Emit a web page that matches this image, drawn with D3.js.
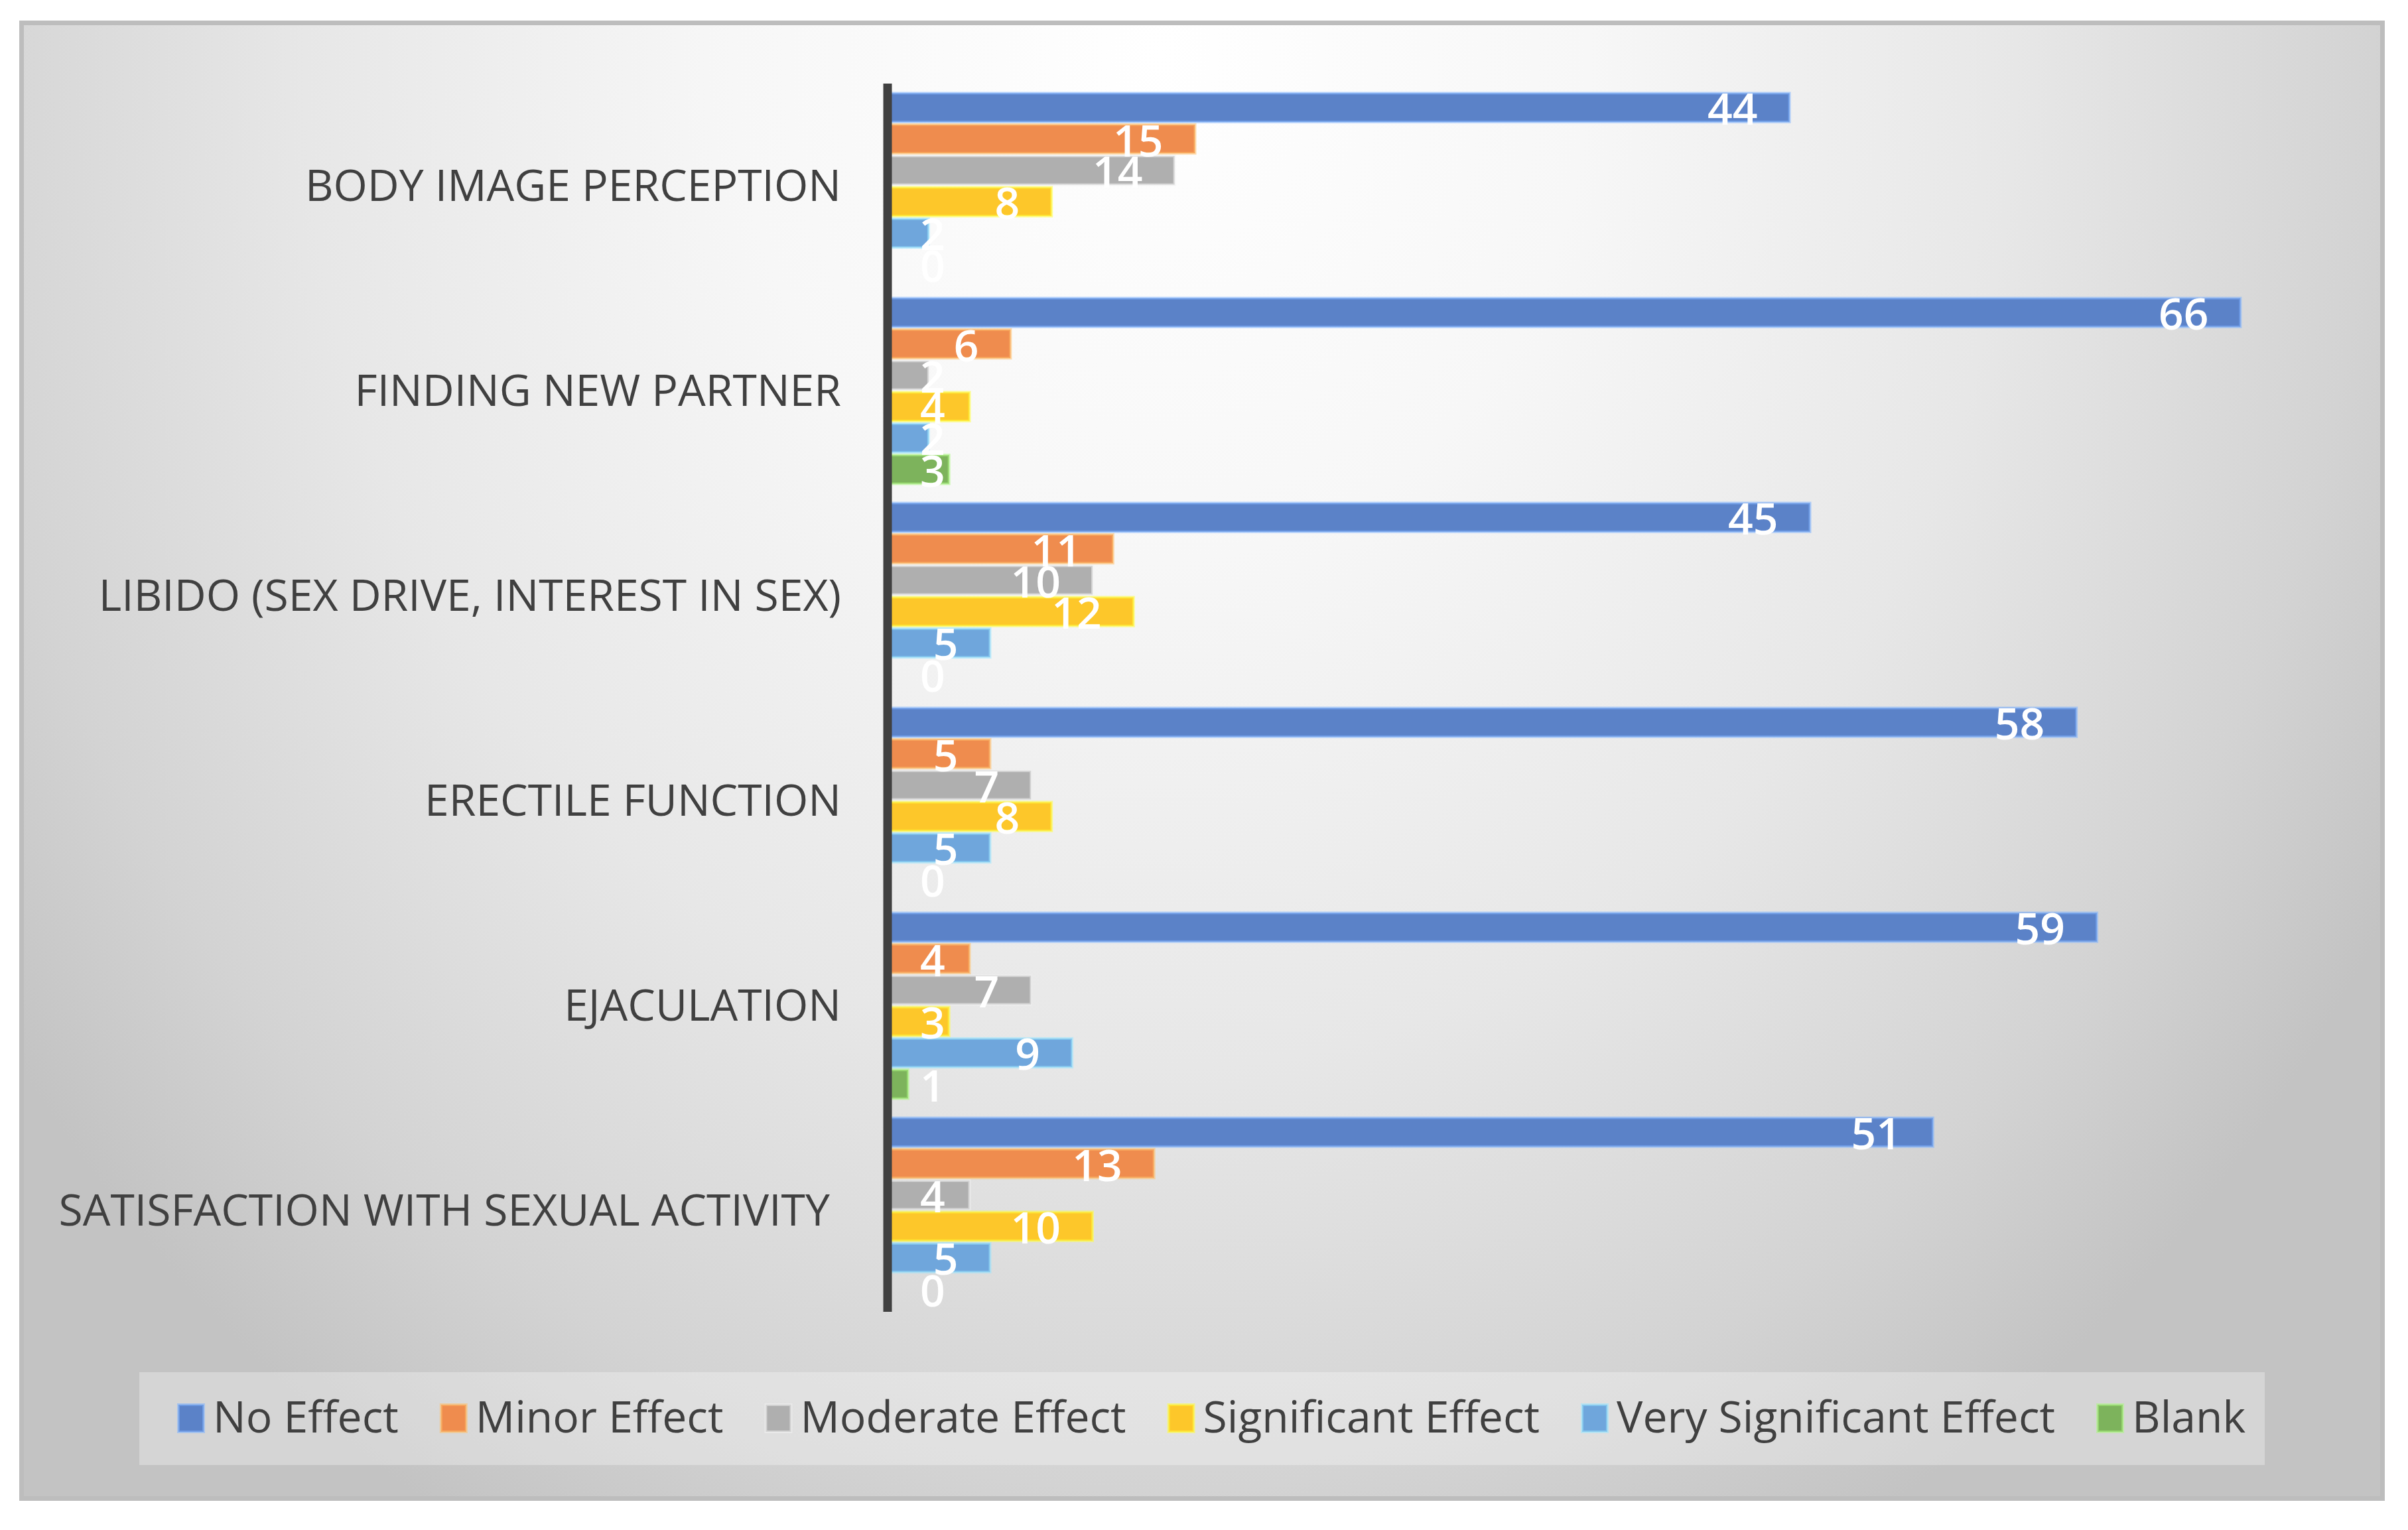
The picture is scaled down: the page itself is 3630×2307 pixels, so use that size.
<!DOCTYPE html>
<html>
<head>
<meta charset="utf-8">
<script src="https://cdn.jsdelivr.net/npm/d3@7"></script>
<style>
  html, body { margin: 0; padding: 0; background: #ffffff; }
  svg { display: block; }
  text { font-family: "Open Sans", sans-serif; }
</style>
</head>
<body>
<div id="chart"></div>
<script>
// categories, top to bottom
var categories = [
  "BODY IMAGE PERCEPTION",
  "FINDING NEW PARTNER",
  "LIBIDO (SEX DRIVE, INTEREST IN SEX)",
  "ERECTILE FUNCTION",
  "EJACULATION",
  "SATISFACTION WITH SEXUAL ACTIVITY "
];

var seriesNames = ["No Effect", "Minor Effect", "Moderate Effect", "Significant Effect", "Very Significant Effect", "Blank"];
var seriesColors = ["#5b82c8", "#ef8c4e", "#afafaf", "#fdc72a", "#6fa6dc", "#7db35c"];

var noEffect          = [44, 66, 45, 58, 59, 51];
var minorEffect       = [15, 6, 11, 5, 4, 13];
var moderateEffect    = [14, 2, 10, 7, 7, 4];
var significantEffect = [8, 4, 12, 8, 3, 10];
var verySignificant   = [2, 2, 5, 5, 9, 5];
var blank             = [0, 3, 0, 0, 1, 0];

var seriesValues = [noEffect, minorEffect, moderateEffect, significantEffect, verySignificant, blank];

var W = 3630, H = 2307;

var svg = d3.select("#chart").append("svg")
  .attr("width", W)
  .attr("height", H);

var defs = svg.append("defs");

// soft radial background like the office chart style
var grad = defs.append("radialGradient")
  .attr("id", "bg")
  .attr("gradientUnits", "userSpaceOnUse")
  .attr("cx", 0).attr("cy", 0).attr("r", 1)
  .attr("gradientTransform", "translate(1750,80) scale(2150,2550)");
grad.append("stop").attr("offset", "0").attr("stop-color", "#ffffff");
grad.append("stop").attr("offset", "0.3").attr("stop-color", "#f7f7f7");
grad.append("stop").attr("offset", "0.6").attr("stop-color", "#e7e7e7");
grad.append("stop").attr("offset", "0.85").attr("stop-color", "#d3d3d3");
grad.append("stop").attr("offset", "1").attr("stop-color", "#c3c3c3");

svg.append("rect")
  .attr("x", 32.5).attr("y", 34.5)
  .attr("width", 3559).attr("height", 2225)
  .attr("fill", "url(#bg)")
  .attr("stroke", "#bdbdbd")
  .attr("stroke-width", 7);

// scales
var x = d3.scaleLinear()
  .domain([0, 70])
  .range([1338, 3501]);

var y = d3.scaleBand()
  .domain(categories)
  .range([126, 1980])
  .paddingInner(0.094)
  .paddingOuter(0.047);

var ySub = d3.scaleBand()
  .domain(seriesNames)
  .range([0, y.bandwidth()])
  .paddingInner(0.085);

// bars
var rows = [];
categories.forEach(function (c, i) {
  seriesNames.forEach(function (s, j) {
    rows.push({ cat: c, series: s, value: seriesValues[j][i], color: seriesColors[j] });
  });
});

var bars = svg.append("g").attr("class", "bars");

bars.selectAll("rect")
  .data(rows)
  .enter()
  .append("rect")
  .attr("x", x(0))
  .attr("y", function (d) { return y(d.cat) + ySub(d.series); })
  .attr("width", function (d) { return x(d.value) - x(0); })
  .attr("height", ySub.bandwidth())
  .attr("fill", function (d) { return d.color; })
  .attr("stroke", function (d) { return d3.color(d.color).brighter(0.9); })
  .attr("stroke-opacity", 0.55)
  .attr("stroke-width", function (d) { return d.value > 0 ? 4 : 0; });

// category axis line
svg.append("line")
  .attr("x1", x(0)).attr("x2", x(0))
  .attr("y1", 126).attr("y2", 1978)
  .attr("stroke", "#404040")
  .attr("stroke-width", 13);

// category labels
svg.append("g").selectAll("text")
  .data(categories)
  .enter()
  .append("text")
  .attr("x", 1268)
  .attr("y", function (d) { return y(d) + y.bandwidth() / 2 + 22; })
  .attr("text-anchor", "end")
  .attr("font-size", 66)
  .attr("fill", "#404040")
  .style("white-space", "pre")
  .text(function (d) { return d; });

// data labels, inside end
var labels = svg.append("g").selectAll("text")
  .data(rows)
  .enter()
  .append("text")
  .attr("y", function (d) { return y(d.cat) + ySub(d.series) + ySub.bandwidth() / 2 + 26; })
  .attr("text-anchor", "end")
  .attr("font-size", 66)
  .attr("font-weight", 600)
  .attr("fill", "#ffffff")
  .text(function (d) { return d.value; });

labels.attr("x", function (d) {
  var w = this.getComputedTextLength();
  return Math.max(x(d.value) - 48, x(0) + 49 + w);
});

// legend
var legend = svg.append("g");
legend.append("rect")
  .attr("x", 210).attr("y", 2069)
  .attr("width", 3204).attr("height", 140)
  .attr("fill", "#ffffff")
  .attr("fill-opacity", 0.3);

var lx = 327;
seriesNames.forEach(function (s, j) {
  var item = legend.append("g");
  item.append("rect")
    .attr("x", lx - 58).attr("y", 2118)
    .attr("width", 38).attr("height", 41)
    .attr("fill", seriesColors[j])
    .attr("stroke", d3.color(seriesColors[j]).brighter(0.9))
    .attr("stroke-opacity", 0.55)
    .attr("stroke-width", 4);
  var t = item.append("text")
    .attr("x", lx - 6)
    .attr("y", 2160)
    .attr("font-size", 66)
    .attr("fill", "#404040")
    .text(s);
  lx = lx + t.node().getComputedTextLength() + 116;
});
</script>
</body>
</html>
